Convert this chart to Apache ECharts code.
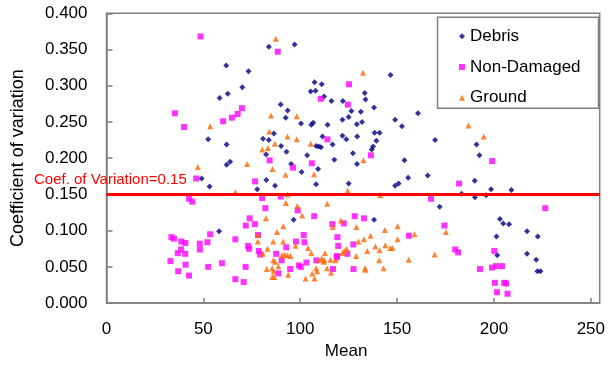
<!DOCTYPE html>
<html>
<head>
<meta charset="utf-8">
<script src="https://cdn.jsdelivr.net/npm/echarts@6/dist/echarts.min.js"></script>
<style>
  html, body { margin: 0; padding: 0; background: #fff; }
  #chart { width: 608px; height: 365px; }
</style>
</head>
<body>
<div id="chart"></div>
<script>
// [mean, coefficient of variation]
const debris = [
  [97.1, 0.357], [83.8, 0.354], [61.8, 0.328], [73.3, 0.320], [146.6, 0.315],
  [70.1, 0.298], [62.6, 0.289], [58.4, 0.283], [107.4, 0.305], [111.1, 0.302],
  [105.4, 0.292], [107.9, 0.293], [112.3, 0.285], [133.3, 0.290], [133.7, 0.281],
  [116.1, 0.279], [122.0, 0.279], [89.9, 0.274], [138.1, 0.270], [93.5, 0.266],
  [126.4, 0.265], [131.3, 0.264], [160.8, 0.262], [125.0, 0.257], [92.5, 0.256],
  [121.8, 0.253], [149.0, 0.253], [100.4, 0.248], [106.7, 0.249], [105.7, 0.246],
  [114.1, 0.246], [131.9, 0.250], [129.2, 0.247], [152.5, 0.244], [86.4, 0.234],
  [138.4, 0.235], [141.0, 0.235], [52.5, 0.226], [80.8, 0.227], [83.8, 0.225],
  [111.5, 0.230], [121.8, 0.231], [129.4, 0.230], [123.8, 0.226], [169.6, 0.225],
  [139.3, 0.224], [62.0, 0.219], [116.7, 0.219], [108.2, 0.217], [109.5, 0.216],
  [110.7, 0.215], [137.6, 0.216], [136.9, 0.212], [191.0, 0.219], [90.1, 0.217],
  [92.9, 0.209], [82.4, 0.205], [127.2, 0.207], [192.5, 0.204], [103.6, 0.204],
  [63.8, 0.195], [62.0, 0.191], [95.3, 0.192], [117.6, 0.198], [129.3, 0.192],
  [153.8, 0.197], [100.7, 0.181], [109.2, 0.185], [165.8, 0.176], [49.1, 0.172],
  [82.5, 0.170], [155.7, 0.173], [53.2, 0.161], [87.0, 0.162], [108.2, 0.164],
  [125.0, 0.165], [149.0, 0.162], [150.8, 0.165], [190.1, 0.169], [77.8, 0.157],
  [198.5, 0.157], [209.0, 0.156], [183.3, 0.151], [190.2, 0.146], [196.0, 0.149],
  [172.0, 0.133], [138.1, 0.115], [96.6, 0.115], [58.1, 0.099], [203.1, 0.116],
  [204.8, 0.110], [207.8, 0.109], [201.3, 0.092], [222.6, 0.092], [217.1, 0.099],
  [201.7, 0.066], [217.1, 0.068], [221.8, 0.060], [222.4, 0.044], [224.0, 0.044]
];

const nonDamaged = [
  [48.5, 0.368], [88.4, 0.347], [125.2, 0.302], [35.3, 0.262], [40.0, 0.243],
  [60.2, 0.251], [64.7, 0.256], [67.7, 0.261], [69.9, 0.269], [110.6, 0.282],
  [124.6, 0.274], [114.0, 0.226], [136.5, 0.204], [84.2, 0.197], [96.3, 0.187],
  [106.0, 0.193], [199.1, 0.196], [76.7, 0.168], [46.3, 0.172], [182.0, 0.165],
  [42.6, 0.144], [44.3, 0.140], [80.3, 0.145], [90.0, 0.147], [167.5, 0.144],
  [82.0, 0.131], [98.7, 0.128], [226.5, 0.131], [73.9, 0.117], [71.9, 0.107],
  [76.6, 0.109], [107.2, 0.120], [128.1, 0.120], [132.9, 0.117], [116.6, 0.109],
  [122.5, 0.110], [174.4, 0.107], [33.5, 0.091], [34.8, 0.089], [38.6, 0.085],
  [40.7, 0.083], [48.1, 0.082], [52.1, 0.084], [53.5, 0.095], [66.5, 0.088],
  [78.2, 0.094], [101.8, 0.094], [119.2, 0.091], [156.1, 0.093], [38.5, 0.074],
  [48.2, 0.074], [40.6, 0.068], [36.8, 0.069], [73.1, 0.079], [73.6, 0.075],
  [78.6, 0.072], [79.3, 0.067], [87.6, 0.068], [92.8, 0.077], [97.8, 0.085],
  [102.2, 0.084], [119.6, 0.079], [119.0, 0.065], [124.3, 0.068], [127.4, 0.081],
  [180.0, 0.074], [181.5, 0.070], [200.2, 0.072], [33.0, 0.058], [37.0, 0.044],
  [40.8, 0.053], [42.6, 0.038], [52.5, 0.050], [59.6, 0.055], [66.5, 0.033],
  [70.8, 0.029], [71.8, 0.050], [88.7, 0.041], [90.4, 0.059], [94.8, 0.047],
  [99.3, 0.052], [100.3, 0.050], [103.2, 0.056], [108.3, 0.059], [116.9, 0.047],
  [118.8, 0.063], [127.5, 0.047], [192.8, 0.047], [199.0, 0.049], [201.1, 0.051],
  [204.2, 0.051], [200.5, 0.028], [201.6, 0.015], [205.3, 0.028], [206.3, 0.027],
  [207.0, 0.013]
];

const ground = [
  [87.4, 0.365], [132.4, 0.318], [84.9, 0.259], [98.2, 0.258], [186.8, 0.245],
  [53.5, 0.244], [84.0, 0.237], [194.7, 0.230], [93.4, 0.230], [98.2, 0.226],
  [105.4, 0.220], [86.9, 0.220], [83.3, 0.214], [80.4, 0.212], [132.6, 0.197],
  [72.6, 0.192], [47.1, 0.188], [85.7, 0.185], [92.4, 0.177], [107.1, 0.178],
  [66.5, 0.153], [93.5, 0.150], [124.5, 0.155], [141.4, 0.149], [113.9, 0.137],
  [92.6, 0.138], [98.5, 0.134], [101.0, 0.121], [82.3, 0.117], [121.0, 0.114],
  [91.3, 0.106], [150.3, 0.106], [129.0, 0.105], [116.8, 0.105], [88.0, 0.098],
  [143.7, 0.101], [159.0, 0.095], [175.2, 0.098], [78.1, 0.094], [136.3, 0.093],
  [130.0, 0.085], [132.9, 0.088], [150.2, 0.088], [78.1, 0.085], [86.1, 0.085],
  [91.2, 0.085], [97.6, 0.079], [104.0, 0.076], [83.1, 0.075], [121.8, 0.069],
  [122.7, 0.072], [124.0, 0.075], [138.8, 0.078], [143.9, 0.080], [146.4, 0.076],
  [147.6, 0.076], [134.6, 0.072], [141.0, 0.073], [80.7, 0.068], [90.6, 0.066],
  [92.0, 0.067], [93.5, 0.066], [95.0, 0.065], [105.7, 0.069], [112.8, 0.069],
  [128.9, 0.065], [169.4, 0.067], [86.1, 0.059], [87.0, 0.057], [88.7, 0.051],
  [86.3, 0.044], [85.5, 0.048], [82.7, 0.047], [85.6, 0.036], [86.6, 0.036],
  [93.8, 0.039], [102.8, 0.034], [107.4, 0.034], [108.7, 0.044], [108.2, 0.048],
  [106.2, 0.041], [109.9, 0.059], [111.1, 0.062], [112.5, 0.059], [112.1, 0.057],
  [115.6, 0.060], [118.1, 0.059], [113.8, 0.048], [115.9, 0.042], [133.4, 0.048],
  [133.7, 0.046], [143.0, 0.048], [140.8, 0.059], [156.0, 0.060]
];

const seriesNames = ['Debris', 'Non-Damaged', 'Ground'];
const cvLimit = 0.15;
const cvLabel = 'Coef. of Variation=0.15';

const font = "'Liberation Sans', Arial, sans-serif";
const gray = '#808080';

const chart = echarts.init(document.getElementById('chart'), null, { renderer: 'canvas' });

const option = {
  animation: false,
  textStyle: { fontFamily: font },
  grid: {
    left: 106.5, right: 3.5, top: 13.3, bottom: 54.3,
    show: true, borderColor: gray, borderWidth: 1.5
  },
  xAxis: {
    type: 'value',
    min: 0,
    max: 254.6, // plot box runs a little past the 250 tick
    interval: 50,
    name: 'Mean',
    nameLocation: 'middle',
    nameGap: 35,
    nameTextStyle: { fontSize: 17, color: '#000', padding: [0, 14, 0, 0] },
    axisLine: { lineStyle: { color: gray, width: 1.5 } },
    axisTick: { inside: true, length: 5, lineStyle: { color: gray, width: 1.5 } },
    axisLabel: {
      fontSize: 17, color: '#000', margin: 18, showMaxLabel: false,
      formatter: v => (v % 50 === 0 ? String(v) : '')
    },
    splitLine: { show: false }
  },
  yAxis: {
    type: 'value',
    min: 0,
    max: 0.4,
    interval: 0.05,
    name: 'Coefficient of variation',
    nameLocation: 'middle',
    nameGap: 79,
    nameTextStyle: { fontSize: 18, color: '#000' },
    axisLine: { lineStyle: { color: gray, width: 1.5 } },
    axisTick: { inside: true, length: 6, lineStyle: { color: gray, width: 1.5 } },
    axisLabel: { fontSize: 17, color: '#000', margin: 19, formatter: v => v.toFixed(3) },
    splitLine: { show: false }
  },
  legend: {
    data: seriesNames,
    orient: 'vertical',
    left: 438,
    top: 17.3,
    padding: [9, 0, 0, 21],
    itemWidth: 6,
    itemHeight: 6,
    itemGap: 10.7,
    z: 10,
    textStyle: { fontSize: 17, lineHeight: 20, color: '#000', fontFamily: font }
  },
  series: [
    {
      name: seriesNames[0], type: 'scatter', symbol: 'diamond', symbolSize: 6,
      itemStyle: { color: '#000080' }, data: debris
    },
    {
      name: seriesNames[1], type: 'scatter', symbol: 'rect', symbolSize: 6,
      itemStyle: { color: '#ff00ff' }, data: nonDamaged
    },
    {
      name: seriesNames[2], type: 'scatter', symbol: 'triangle', symbolSize: 6,
      itemStyle: { color: '#ff6600' }, data: ground
    },
    {
      name: 'limit', type: 'scatter', data: [], z: 5,
      markLine: {
        silent: true,
        symbol: 'none',
        label: { show: false },
        lineStyle: { color: '#ff0000', width: 3, type: 'solid' },
        data: [{ yAxis: cvLimit }]
      }
    }
  ]
};

chart.setOption(option);

const lineY = chart.convertToPixel({ yAxisIndex: 0 }, cvLimit);

chart.setOption({
  graphic: [
    {
      type: 'rect',
      z: 8,
      shape: { x: 437.5, y: 17.3, width: 161, height: 91 },
      style: { fill: '#fff', stroke: gray, lineWidth: 1.5 }
    },
    {
      type: 'text',
      z: 8,
      x: 34,
      y: lineY - 15,
      style: {
        text: cvLabel,
        fill: '#ff0000',
        font: '15px ' + font,
        verticalAlign: 'middle'
      }
    }
  ]
});
</script>
</body>
</html>
